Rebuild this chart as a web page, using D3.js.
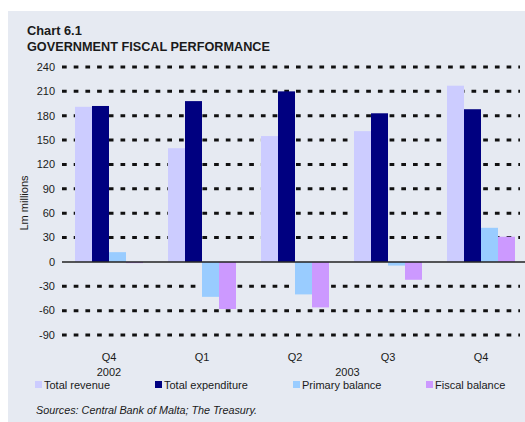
<!DOCTYPE html>
<html>
<head>
<meta charset="utf-8">
<script src="https://cdn.jsdelivr.net/npm/d3@7"></script>
<style>
  html, body { margin: 0; padding: 0; background: #ffffff; }
  svg { display: block; }
  text { font-family: "Liberation Sans", Arial, sans-serif; fill: #1a1a1a; }
</style>
</head>
<body>
<svg id="chart" width="525" height="422"></svg>
<script>
// Quarterly government fiscal figures, Lm millions
const quarters = ["Q4 2002", "Q1 2003", "Q2 2003", "Q3 2003", "Q4 2003"];
const quarterLabels = ["Q4", "Q1", "Q2", "Q3", "Q4"];
const yearLabels = [{ year: "2002", from: 0, to: 0 }, { year: "2003", from: 1, to: 4 }];
const seriesNames = ["Total revenue", "Total expenditure", "Primary balance", "Fiscal balance"];
const seriesColors = ["#ccccff", "#000080", "#99ccff", "#cc99ff"];
const totalRevenue = [191, 140, 155, 161, 217];
const totalExpenditure = [192, 198, 210, 183, 188];
const primaryBalance = [12, -43, -40, -4.5, 42];
const fiscalBalance = [-1.5, -58, -56, -22, 31];
const yTicks = [-90, -60, -30, 0, 30, 60, 90, 120, 150, 180, 210, 240];

const seriesValues = [totalRevenue, totalExpenditure, primaryBalance, fiscalBalance];

const svg = d3.select("#chart");

// panel background
svg.append("rect").attr("x", 8).attr("y", 11).attr("width", 517).attr("height", 411)
  .attr("fill", "#e6eaf2");

// titles
svg.append("text").attr("x", 27).attr("y", 35).attr("font-size", 12.8).attr("font-weight", "bold")
  .text("Chart 6.1");
svg.append("text").attr("x", 27).attr("y", 51).attr("font-size", 12.7).attr("font-weight", "bold")
  .text("GOVERNMENT FISCAL PERFORMANCE");

const y = d3.scaleLinear().domain([-90, 240]).range([335, 67]);
const x = d3.scaleBand().domain(quarters).range([62, 528]).paddingInner(25 / 93).paddingOuter(13 / 93);
const xs = d3.scaleBand().domain(seriesNames).range([0, x.bandwidth()]);

// dotted gridlines
svg.append("g").selectAll("line").data(yTicks.filter(t => t !== 0)).join("line")
  .attr("x1", 62).attr("x2", 520)
  .attr("y1", d => y(d)).attr("y2", d => y(d))
  .attr("stroke", "#111").attr("stroke-width", 3).attr("stroke-dasharray", "4.7,7");

// y tick labels
svg.append("g").selectAll("text").data(yTicks).join("text")
  .attr("x", 55).attr("y", d => y(d)).attr("dy", "0.35em")
  .attr("text-anchor", "end").attr("font-size", 11)
  .text(d => d);

// y axis title
svg.append("text").attr("transform", `translate(28,${(y(240) + y(-90)) / 2 + 2}) rotate(-90)`)
  .attr("text-anchor", "middle").attr("font-size", 11).text("Lm millions");

// bars
const rows = quarters.map((q, i) => ({ q, vals: seriesNames.map((s, j) => ({ s, j, v: seriesValues[j][i] })) }));
svg.append("g").selectAll("g").data(rows).join("g")
  .attr("transform", d => `translate(${x(d.q)},0)`)
  .selectAll("rect").data(d => d.vals).join("rect")
  .attr("x", d => xs(d.s)).attr("width", xs.bandwidth())
  .attr("y", d => y(Math.max(0, d.v)))
  .attr("height", d => Math.abs(y(d.v) - y(0)))
  .attr("fill", d => seriesColors[d.j]);

// zero line
svg.append("line").attr("x1", 62).attr("x2", 525).attr("y1", y(0)).attr("y2", y(0))
  .attr("stroke", "#222").attr("stroke-width", 1.5);

// category labels
svg.append("g").selectAll("text").data(quarters).join("text")
  .attr("x", d => x(d) + x.bandwidth() / 2).attr("y", 361)
  .attr("text-anchor", "middle").attr("font-size", 11)
  .text((d, i) => quarterLabels[i]);

svg.append("g").selectAll("text").data(yearLabels).join("text")
  .attr("x", d => d.from === d.to
    ? x(quarters[d.from]) + x.bandwidth() / 2
    : (x(quarters[d.from]) + x(quarters[d.to]) + x.bandwidth()) / 2 + 6)
  .attr("y", 376).attr("text-anchor", "middle").attr("font-size", 11)
  .text(d => d.year);

// legend
const legendX = [35, 155, 293, 426];
const legend = svg.append("g").selectAll("g").data(seriesNames).join("g")
  .attr("transform", (d, i) => `translate(${legendX[i]},381)`);
legend.append("rect").attr("width", 7).attr("height", 7).attr("fill", (d, i) => seriesColors[i]);
legend.append("text").attr("x", 9).attr("y", 8).attr("font-size", 11).text(d => d);

// source note
svg.append("text").attr("x", 36).attr("y", 414).attr("font-size", 10.8).attr("font-style", "italic")
  .text("Sources: Central Bank of Malta; The Treasury.");
</script>
</body>
</html>
